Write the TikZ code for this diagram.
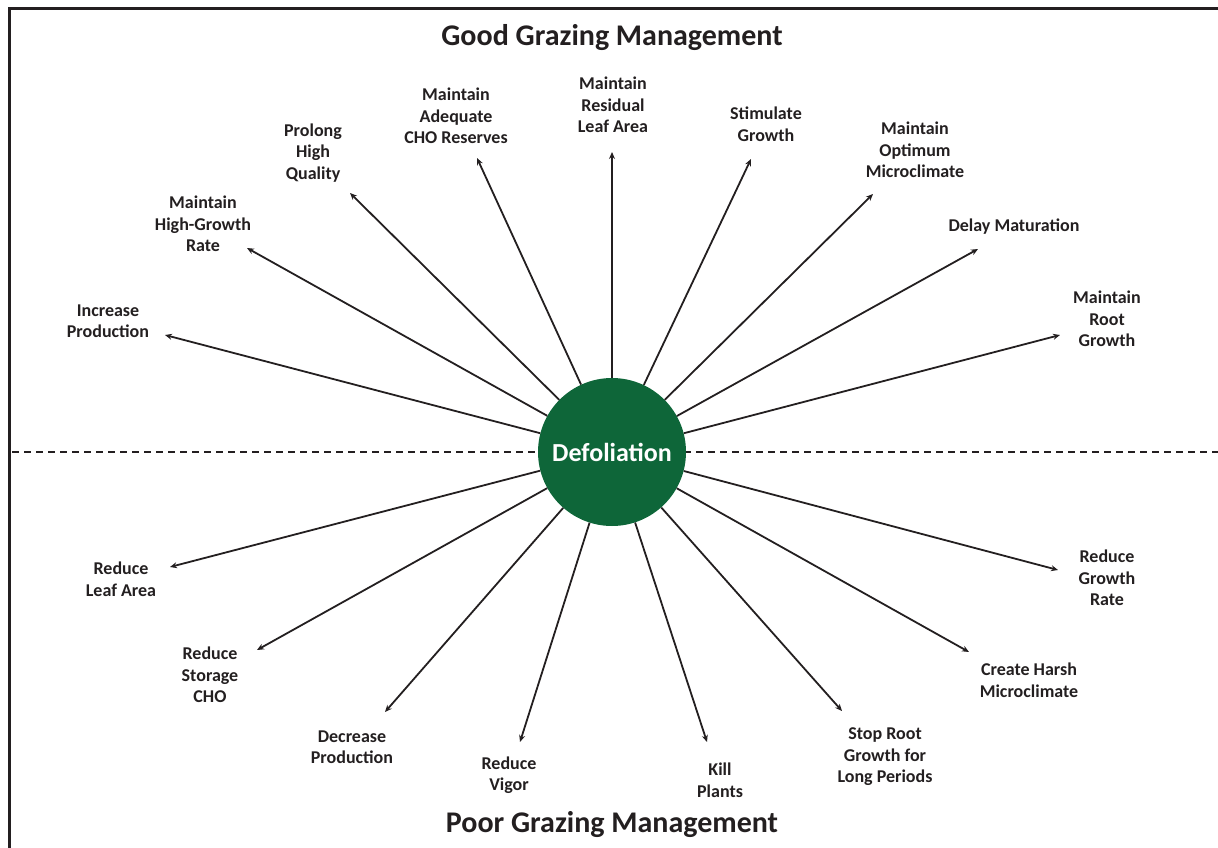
\documentclass[tikz,border=0pt]{standalone}
\usepackage{fontspec}
\setmainfont{Carlito}
\usetikzlibrary{arrows.meta}
\definecolor{ink}{HTML}{231F20}
\definecolor{leafgreen}{HTML}{0E6639}

\begin{document}
\begin{tikzpicture}[x=1pt,y=-1pt]
\tikzstyle{every node}+=[inner sep=0pt]
\tikzstyle{effect}=[font=\bfseries\fontsize{18}{21.5}\selectfont, align=center, text=ink]
\tikzstyle{heading}=[font=\bfseries\fontsize{30}{36}\selectfont, text=ink]
\tikzstyle{arr}=[ink, line width=1.8pt, -{Stealth[length=7pt,width=6pt]}]
\useasboundingbox (0,0) rectangle (1218,848);
\draw [ink, line width=3pt] (9,848) -- (9,9) -- (1218,9);
\draw [ink, line width=2.6pt, dash pattern=on 7pt off 5pt] (12,452) -- (1218,452);
\node [heading] (good) at (612,38) {Good Grazing Management};
\node [heading] (poor) at (612,825) {Poor Grazing Management};
\node [circle, fill=leafgreen, minimum size=148pt, text=white,
  font=\bfseries\fontsize{26}{31}\selectfont] (defol) at (612,452) {Defoliation};
% upper half
\node [effect] (incprod) at (108,321) {Increase\\Production};
\node [effect] (highgrowth) at (203,224) {Maintain\\High-Growth\\Rate};
\node [effect] (prolong) at (313,153) {Prolong\\High\\Quality};
\node [effect] (choreserve) at (456,116) {Maintain\\Adequate\\CHO Reserves};
\node [effect] (residual) at (613,105) {Maintain\\Residual\\Leaf Area};
\node [effect] (stimulate) at (766,124) {Stimulate\\Growth};
\node [effect] (optimum) at (915,150) {Maintain\\Optimum\\Microclimate};
\node [effect] (delay) at (1014,227) {Delay Maturation};
\node [effect] (rootgrowth) at (1107,319) {Maintain\\Root\\Growth};
\coordinate (incprodtip) at (165,335);
\coordinate (highgrowthtip) at (247,248);
\coordinate (prolongtip) at (350,193);
\coordinate (choreservetip) at (477,158);
\coordinate (residualtip) at (612,152);
\coordinate (stimulatetip) at (751,159);
\coordinate (optimumtip) at (873,194);
\coordinate (delaytip) at (978,249);
\coordinate (rootgrowthtip) at (1060,335);
% lower half
\node [effect] (leafarea) at (121,579) {Reduce\\Leaf Area};
\node [effect] (storage) at (210,675) {Reduce\\Storage\\CHO};
\node [effect] (decprod) at (352,747) {Decrease\\Production};
\node [effect] (vigor) at (509,775) {Reduce\\Vigor};
\node [effect] (kill) at (720,780) {Kill\\Plants};
\node [effect] (stoproot) at (885,757) {Stop Root\\Growth for\\Long Periods};
\node [effect] (harsh) at (1029,680) {Create Harsh\\Microclimate};
\node [effect] (growthrate) at (1107,578) {Reduce\\Growth\\Rate};
\coordinate (leafareatip) at (170,567);
\coordinate (storagetip) at (257,650);
\coordinate (decprodtip) at (385,712);
\coordinate (vigortip) at (520,742);
\coordinate (killtip) at (707,742);
\coordinate (stoproottip) at (842,711);
\coordinate (harshtip) at (969,652);
\coordinate (growthratetip) at (1058,570);
\foreach \t in {incprod,highgrowth,prolong,choreserve,residual,stimulate,optimum,delay,rootgrowth,
  leafarea,storage,decprod,vigor,kill,stoproot,harsh,growthrate}
  \draw [arr] (defol) -- (\t tip);
\end{tikzpicture}
\end{document}
